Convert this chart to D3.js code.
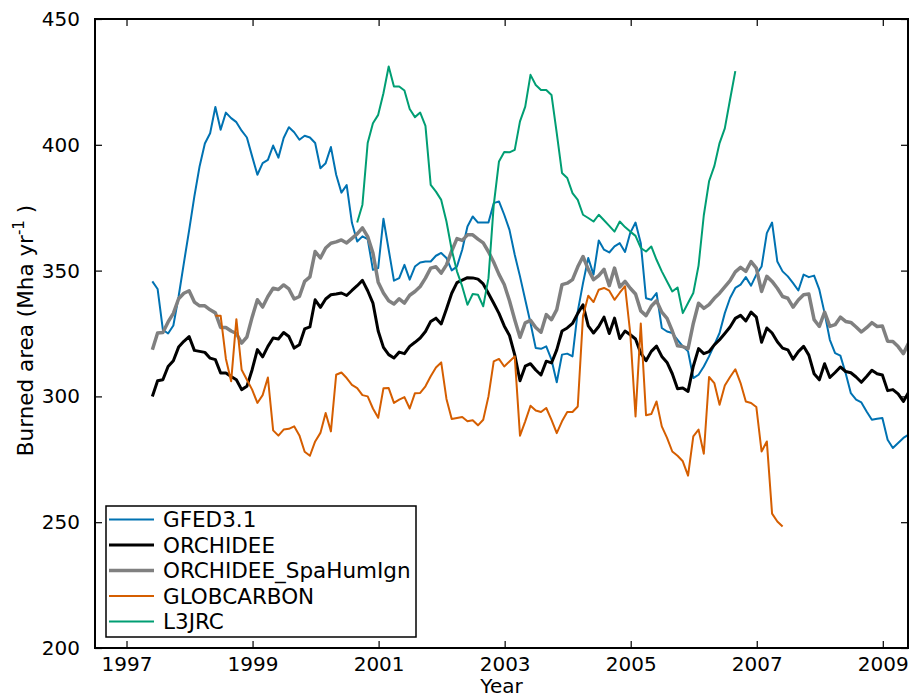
<!DOCTYPE html>
<html lang="en">
<head>
  <meta charset="utf-8">
  <title>Burned area time series</title>
  <script src="https://d3js.org/d3.v7.min.js"></script>
  <style>
    html, body { margin:0; padding:0; background:#fff; }
    svg text { font-family: "DejaVu Sans", sans-serif; fill:#000; }
  </style>
</head>
<body>
  <div id="chart"></div>
  <script>
    // ─── Data (monthly values, Mha/yr) ─────────────────────────────────────
    const seriesNames = ["GFED3.1", "ORCHIDEE", "ORCHIDEE_SpaHumIgn", "GLOBCARBON", "L3JRC"];
    const xTicks = [1997, 1999, 2001, 2003, 2005, 2007, 2009];
    const yTicks = [200, 250, 300, 350, 400, 450];

    // first month of each series (decimal year), step = 1 month
    const gfedStart = 1997.41, orchStart = 1997.41, spaStart = 1997.41,
          globStart = 1998.41, l3jrcStart = 2000.66;

    const gfed = [345.7, 342.7, 326.5, 325, 328.2, 339.7, 353, 366, 379.5, 391.5, 400.5, 404.6,
      415, 406, 412.8, 410.6, 409, 405.6, 402.9, 395.4, 388.1, 392.7, 394, 399.7,
      394.9, 402.7, 407, 405, 402, 403.6, 402.9, 400.7, 390.7, 392.7, 399.1, 388.1,
      381, 384, 369, 361.6, 363.6, 362.5, 350.3, 351, 370.6, 358.3, 346, 347,
      352.3, 346.4, 351.6, 353.2, 353.6, 353.6, 355.9, 357, 355, 350.1, 351.6, 358.3,
      367.5, 371.5, 369.1, 369.1, 369.1, 376.8, 377.5, 372.2, 366.2, 356.3, 347.7, 338.4,
      329.2, 319.2, 318.9, 319.9, 314.6, 305.6, 316.6, 317, 315.9, 333.8, 345, 355,
      348.4, 362, 358.3, 357.2, 359.6, 360.9, 357.4, 365, 369.1, 360.9, 339, 338.4,
      341.1, 327.2, 325.8, 325.2, 322.5, 319.9, 317.9, 307.3, 308.6, 311.9, 315.9, 320.5,
      325.2, 333.1, 339.1, 343.1, 344.4, 347.4, 344, 348.4, 351.6, 364.9, 369.1, 353.6,
      349.7, 347.7, 345, 342.1, 348.4, 347.4, 348, 342.4, 333.1, 322.5, 317.2, 316.2,
      309.3, 301.3, 298.7, 297.6, 294, 290.7, 291.1, 291.4, 282.8, 279.5, 281.5, 283.5, 284.8];

    const orchidee = [300, 306.2, 306.6, 311.9, 314.2, 319.6, 321.9, 323.8, 318.3, 317.9, 317.5, 315.2,
      314.6, 309.3, 309.3, 307.9, 306.6, 302.7, 304, 310.6, 318.6, 315.7, 319.9, 323.2,
      322.8, 325.4, 323.8, 319.2, 320.5, 326.8, 327.6, 338.4, 335.4, 338.7, 340.4, 340.7,
      341.1, 340.1, 342.1, 344, 346.1, 342, 337.1, 326, 319.5, 316.6, 315.3, 317.6,
      317, 319.9, 321.5, 323.2, 325.8, 329.8, 331.1, 328.8, 334.7, 341, 345.2, 346.2,
      347.2, 347.1, 346.6, 344.7, 340.9, 337, 333, 328, 324.2, 316.5, 306.2, 312,
      313, 310.5, 308.5, 314, 313.3, 318.5, 326, 327.2, 329, 333, 336.4, 328,
      325.2, 327.8, 331.5, 325, 331.1, 323, 326, 324.5, 322.8, 317.2, 314.2, 317.9,
      320, 315.9, 313.5, 309, 303, 303.3, 302, 312, 319, 317, 317.8, 320.5,
      322.5, 325, 327.6, 331, 332.2, 330, 333.5, 331.5, 321.5, 327.2, 325.2, 321.7,
      319.2, 318.5, 314.8, 317.8, 319.9, 316.4, 309, 306.6, 313, 307.5, 309.5, 311.7,
      309.9, 309.4, 307.7, 305.6, 307.9, 310.4, 309, 308.5, 302.3, 302.7, 301, 298, 301.6];

    const spaHumIgn = [318.5, 325.2, 325.4, 329.6, 333, 338.8, 341, 342, 337.5, 336, 336, 334.4,
      333.2, 327.4, 327.4, 326, 325, 321.2, 323.6, 331.5, 338.4, 335.5, 339.7, 343,
      342.5, 344.3, 342.7, 338.7, 339.7, 345.7, 347.5, 357.6, 355, 359, 360.9, 361.4,
      362.2, 361, 362.8, 364.6, 367, 363.5, 357, 345.4, 341.1, 338, 336.7, 338.8,
      337.1, 340.2, 341.7, 343.7, 347, 351, 351.5, 349, 352.3, 357.8, 362.7, 362,
      364.2, 364.2, 362.5, 361, 357.5, 353.3, 348.5, 344.5, 338, 330.5, 323.5, 329.2,
      330.2, 327.4, 325.5, 332.5, 330.5, 334.5, 344.4, 345, 346.4, 351.5, 355.6, 350.5,
      346.4, 348, 350.5, 344, 351, 343.5, 345.7, 343, 340.7, 334, 332.1, 335.8,
      338, 333.5, 331, 326, 320.1, 319.8, 319, 329, 337, 335, 336.5, 339,
      341, 343.5, 346, 349.5, 351.3, 349.7, 353.6, 351, 341.7, 347.7, 345.7, 343,
      339.7, 339, 335.5, 338.3, 340.4, 340.7, 330.5, 327.8, 333.5, 327.8, 328.5, 331.5,
      329.8, 329.4, 327.6, 325.6, 327.3, 329.3, 327.8, 328, 321.9, 321.8, 319.8, 317, 321.2];

    const globcarbon = [332.1, 332.1, 315, 306, 330.7, 310.6, 306.6, 302.7, 297.4, 300.5, 307.5, 286.5,
      284.4, 286.8, 287.1, 288.1, 284.5, 278, 276.4, 282.1, 285.5, 293.4, 286.1, 308.6,
      309.5, 307.3, 304.6, 303.3, 300.5, 300, 295.2, 291.5, 303.2, 303.3, 297.4, 298.7,
      299.7, 295.2, 301.3, 301.4, 304, 308, 311.5, 313.5, 299, 291, 291.4, 291.8,
      290.1, 290.5, 288.5, 290.7, 300, 313.9, 314.9, 311.9, 313.9, 315.9, 284.4, 290.1,
      296.3, 294.4, 293.8, 295.4, 290.7, 285.4, 290.1, 293.8, 293.8, 296, 332, 340,
      337.5, 342.4, 343.1, 342, 338.4, 341.2, 343.8, 325, 292, 329, 292.5, 293,
      298, 288.1, 283.5, 278.1, 276.4, 274.2, 268.5, 284.1, 286.8, 277.2, 307.7, 305.3,
      296.7, 304.3, 307.7, 310.8, 305.3, 298, 297.4, 295.8, 278.1, 282.1, 253.4, 250.3, 248.3];

    const l3jrc = [369.1, 376.2, 400.7, 408.6, 411.9, 420.5, 431.1, 423.2, 423.2, 421.6, 414.2, 411,
      412.8, 407.5, 384.1, 381.4, 378.1, 369.5, 358.3, 349.7, 343.7, 336.4, 340.7, 340.4,
      335.8, 347, 376, 393.4, 397.1, 397, 398, 409.3, 415.2, 427.8, 423.8, 421.8,
      421.8, 419.8, 404.6, 388.8, 386.8, 380.8, 378.1, 372.2, 370.9, 369.5, 372.2, 370,
      367.8, 365.5, 369.5, 367.3, 365.5, 363.8, 359, 357.6, 359.6, 354.3, 349.7, 345.7,
      341.7, 343.3, 333.1, 337.1, 341.1, 352, 372, 385.5, 391.5, 400.7, 406.5, 418, 429.3];
    // ───────────────────────────────────────────────────────────────────────

    const seriesValues = [gfed, orchidee, spaHumIgn, globcarbon, l3jrc];
    const seriesStarts = [gfedStart, orchStart, spaStart, globStart, l3jrcStart];
    const colors = ["#0072b2", "#000000", "#808080", "#d55e00", "#009e73"];
    const widths = [2, 3, 3.5, 2, 2];

    const W = 910, H = 699;
    const margin = { top: 19, right: 2, bottom: 51, left: 95 };

    const svg = d3.select("#chart").append("svg")
      .attr("width", W).attr("height", H);

    const x = d3.scaleLinear().domain([1996.5, 2009.4]).range([margin.left, W - margin.right]);
    const y = d3.scaleLinear().domain([200, 450]).range([H - margin.bottom, margin.top]);

    svg.append("clipPath").attr("id", "plotclip")
      .append("rect")
        .attr("x", x.range()[0]).attr("y", y.range()[1])
        .attr("width", x.range()[1] - x.range()[0])
        .attr("height", y.range()[0] - y.range()[1]);

    const data = seriesNames.map((name, i) => ({
      name,
      color: colors[i],
      width: widths[i],
      values: seriesValues[i].map((v, j) => ({ t: seriesStarts[i] + j / 12, v }))
    }));

    const lineGen = d3.line().x(d => x(d.t)).y(d => y(d.v));

    const plot = svg.append("g").attr("clip-path", "url(#plotclip)");
    data.forEach(s => {
      plot.append("path")
        .datum(s.values)
        .attr("d", lineGen)
        .attr("fill", "none")
        .attr("stroke", s.color)
        .attr("stroke-width", s.width)
        .attr("stroke-linejoin", "round");
    });

    // Axes: ticks inside, on all four sides
    const tickLen = 7;
    const fmt = d3.format("d");
    const axBottom = svg.append("g")
      .attr("transform", `translate(0,${y.range()[0]})`)
      .call(d3.axisBottom(x).tickValues(xTicks).tickFormat(fmt).tickSizeInner(-tickLen).tickSizeOuter(0).tickPadding(9));
    const axTop = svg.append("g")
      .attr("transform", `translate(0,${y.range()[1]})`)
      .call(d3.axisTop(x).tickValues(xTicks).tickFormat("").tickSizeInner(-tickLen).tickSizeOuter(0));
    const axLeft = svg.append("g")
      .attr("transform", `translate(${x.range()[0]},0)`)
      .call(d3.axisLeft(y).tickValues(yTicks).tickFormat(fmt).tickSizeInner(-tickLen).tickSizeOuter(0).tickPadding(tickLen + 8));
    const axRight = svg.append("g")
      .attr("transform", `translate(${x.range()[1]},0)`)
      .call(d3.axisRight(y).tickValues(yTicks).tickFormat("").tickSizeInner(-tickLen).tickSizeOuter(0));

    [axBottom, axTop, axLeft, axRight].forEach(g => {
      g.select(".domain").remove();
      g.selectAll("line").attr("stroke", "#000").attr("stroke-width", 1.2);
      g.selectAll("text").style("font-size", "20px").attr("fill", "#000");
    });

    // Frame
    svg.append("rect")
      .attr("x", x.range()[0]).attr("y", y.range()[1])
      .attr("width", x.range()[1] - x.range()[0])
      .attr("height", y.range()[0] - y.range()[1])
      .attr("fill", "none").attr("stroke", "#000").attr("stroke-width", 2);

    // Axis labels
    svg.append("text")
      .attr("x", (x.range()[0] + x.range()[1]) / 2).attr("y", 693)
      .attr("text-anchor", "middle")
      .style("font-size", "20px")
      .text("Year");

    const yl = svg.append("text")
      .attr("transform", `translate(33,${(y.range()[0] + y.range()[1]) / 2 - 3}) rotate(-90)`)
      .attr("text-anchor", "middle")
      .style("font-size", "21.5px");
    yl.append("tspan").text("Burned area (Mha yr");
    yl.append("tspan").attr("baseline-shift", "super").style("font-size", "15px").text("-1");
    yl.append("tspan").text(" )");

    // Legend
    const lg = svg.append("g").attr("transform", "translate(106,506)");
    lg.append("rect")
      .attr("width", 310).attr("height", 131)
      .attr("fill", "#fff").attr("stroke", "#000").attr("stroke-width", 1.5);
    data.forEach((s, i) => {
      const ry = 13.5 + i * 25.5;
      lg.append("line")
        .attr("x1", 3).attr("x2", 48).attr("y1", ry).attr("y2", ry)
        .attr("stroke", s.color).attr("stroke-width", s.width);
      lg.append("text")
        .attr("x", 57).attr("y", ry).attr("dy", "0.36em")
        .style("font-size", "21.5px")
        .text(s.name);
    });
  </script>
</body>
</html>
